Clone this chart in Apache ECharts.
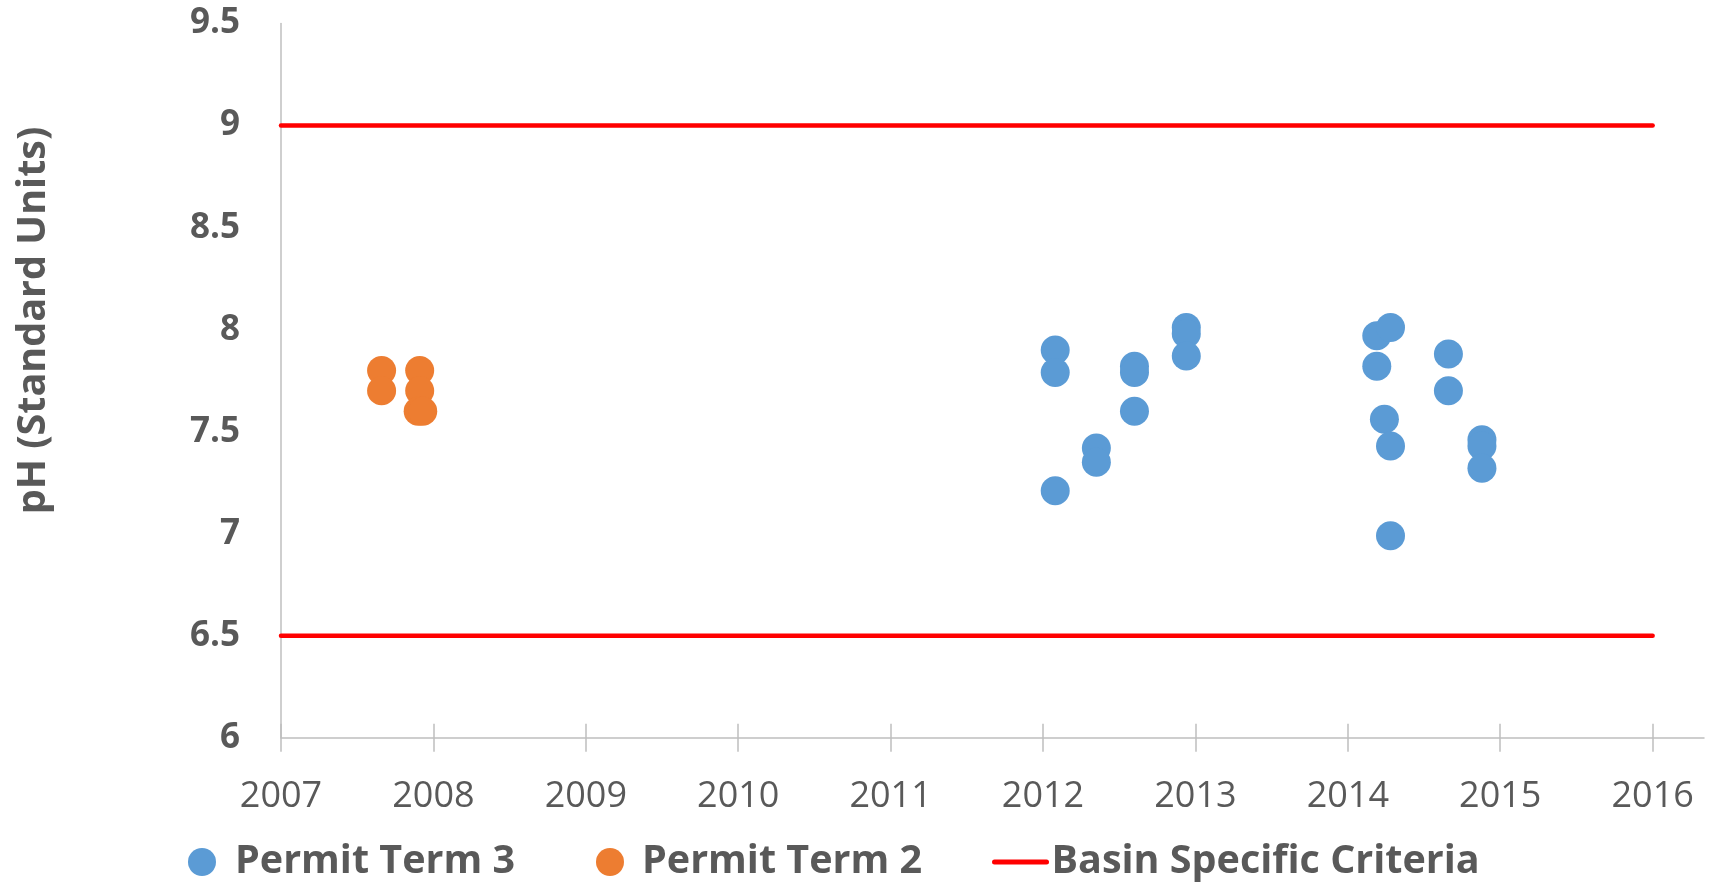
<!DOCTYPE html>
<html>
<head>
<meta charset="utf-8">
<script src="https://cdn.jsdelivr.net/npm/echarts@6/dist/echarts.min.js"></script>
<style>
html,body{margin:0;padding:0;background:#fff;}
#chart{width:1711px;height:885px;}
</style>
</head>
<body>
<div id="chart"></div>
<script>
// ---- Data (decimal year, pH) ----
var term3Years = [2012.08, 2012.08, 2012.08, 2012.35, 2012.35, 2012.60, 2012.60, 2012.60, 2012.94, 2012.94, 2012.94,
                  2014.19, 2014.28, 2014.19, 2014.24, 2014.28, 2014.28, 2014.66, 2014.66, 2014.88, 2014.88, 2014.88];
var term3PH    = [7.90, 7.79, 7.21, 7.42, 7.35, 7.82, 7.79, 7.60, 8.01, 7.98, 7.87,
                  7.97, 8.01, 7.82, 7.56, 7.43, 6.99, 7.88, 7.70, 7.46, 7.43, 7.32];
var term2Years = [2007.66, 2007.66, 2007.91, 2007.91, 2007.90, 2007.93];
var term2PH    = [7.80, 7.70, 7.80, 7.70, 7.60, 7.60];
var criteriaValues = [9, 6.5];
var criteriaYears = [2007, 2016];
var yearTicks = [2007, 2008, 2009, 2010, 2011, 2012, 2013, 2014, 2015, 2016];
var seriesNames = ['Permit Term 3', 'Permit Term 2', 'Basin Specific Criteria'];
var yTitle = 'pH (Standard Units)';

function pairs(xs, ys) { return xs.map(function (x, i) { return [x, ys[i]]; }); }

var textColor = '#595959';
var axisColor = '#BFBFBF';
var font = 'Open Sans';
var gridBox = { left: 281, right: 7, top: 23.5, bottom: 147.3 };

var series = [
  { name: seriesNames[0], type: 'scatter', symbolSize: 29, itemStyle: { color: '#5B9BD5', opacity: 1 },
    data: pairs(term3Years, term3PH), z: 3 },
  { name: seriesNames[1], type: 'scatter', symbolSize: 29, itemStyle: { color: '#ED7D31', opacity: 1 },
    data: pairs(term2Years, term2PH), z: 3 }
];
criteriaValues.forEach(function (v) {
  series.push({ name: seriesNames[2], type: 'line', symbol: 'none', showSymbol: false,
    lineStyle: { color: '#FF0000', width: 4.5, cap: 'round' }, itemStyle: { color: '#FF0000' },
    data: criteriaYears.map(function (yr) { return [yr, v]; }), z: 2, silent: true });
});

var legendText = { color: textColor, fontSize: 39.5, fontWeight: 'bold', fontFamily: font, lineHeight: 40 };
function legendFor(name, left, opts) {
  var l = { data: [name], left: left, top: 842, padding: 0, orient: 'horizontal', selectedMode: false,
    textStyle: Object.assign({}, legendText) };
  return Object.assign(l, opts);
}

var option = {
  animation: false,
  backgroundColor: '#ffffff',
  grid: [
    Object.assign({}, gridBox),
    Object.assign({}, gridBox)
  ],
  xAxis: [
    { type: 'value', gridIndex: 0, min: 2007, max: 2016.337,
      axisLine: { show: true, lineStyle: { color: axisColor, width: 1.5 } },
      axisTick: { show: true, inside: false, length: 14, customValues: yearTicks, lineStyle: { color: axisColor, width: 1.5 } },
      axisLabel: { show: true, customValues: yearTicks, margin: 41, color: textColor, fontSize: 36, fontFamily: font,
        formatter: function (v) { return String(v); } },
      splitLine: { show: false } },
    { type: 'value', gridIndex: 1, min: 2007, max: 2016.337, position: 'bottom',
      axisLine: { show: false },
      axisTick: { show: true, inside: true, length: 14, customValues: yearTicks, lineStyle: { color: axisColor, width: 1.5 } },
      axisLabel: { show: false },
      splitLine: { show: false } }
  ],
  yAxis: [
    { type: 'value', gridIndex: 0, min: 6, max: 9.5, interval: 0.5,
      axisLine: { show: true, lineStyle: { color: axisColor, width: 1.5 } },
      axisTick: { show: false },
      axisLabel: { margin: 41, color: textColor, fontSize: 35, fontWeight: 'bold', fontFamily: font },
      splitLine: { show: false } },
    { type: 'value', gridIndex: 1, min: 6, max: 9.5, show: false }
  ],
  legend: [
    legendFor(seriesNames[0], 188, { icon: 'circle', itemWidth: 28, itemHeight: 28,
      textStyle: Object.assign({}, legendText, { padding: [0, 0, 0, 14] }) }),
    legendFor(seriesNames[1], 596, { icon: 'circle', itemWidth: 28, itemHeight: 28,
      textStyle: Object.assign({}, legendText, { padding: [0, 0, 0, 13] }) }),
    legendFor(seriesNames[2], 992, { itemWidth: 52, itemHeight: 28, itemStyle: { opacity: 0 },
      lineStyle: { color: '#FF0000', width: 5, cap: 'round' } })
  ],
  graphic: [
    { type: 'text', x: 34, y: 320.5, rotation: Math.PI / 2,
      style: { text: yTitle, fill: textColor, fontSize: 39.5, fontWeight: 'bold', fontFamily: font,
        align: 'center', verticalAlign: 'middle' } }
  ],
  series: series
};

var chart = echarts.init(document.getElementById('chart'), null, { renderer: 'canvas' });
chart.setOption(option);
</script>
</body>
</html>
